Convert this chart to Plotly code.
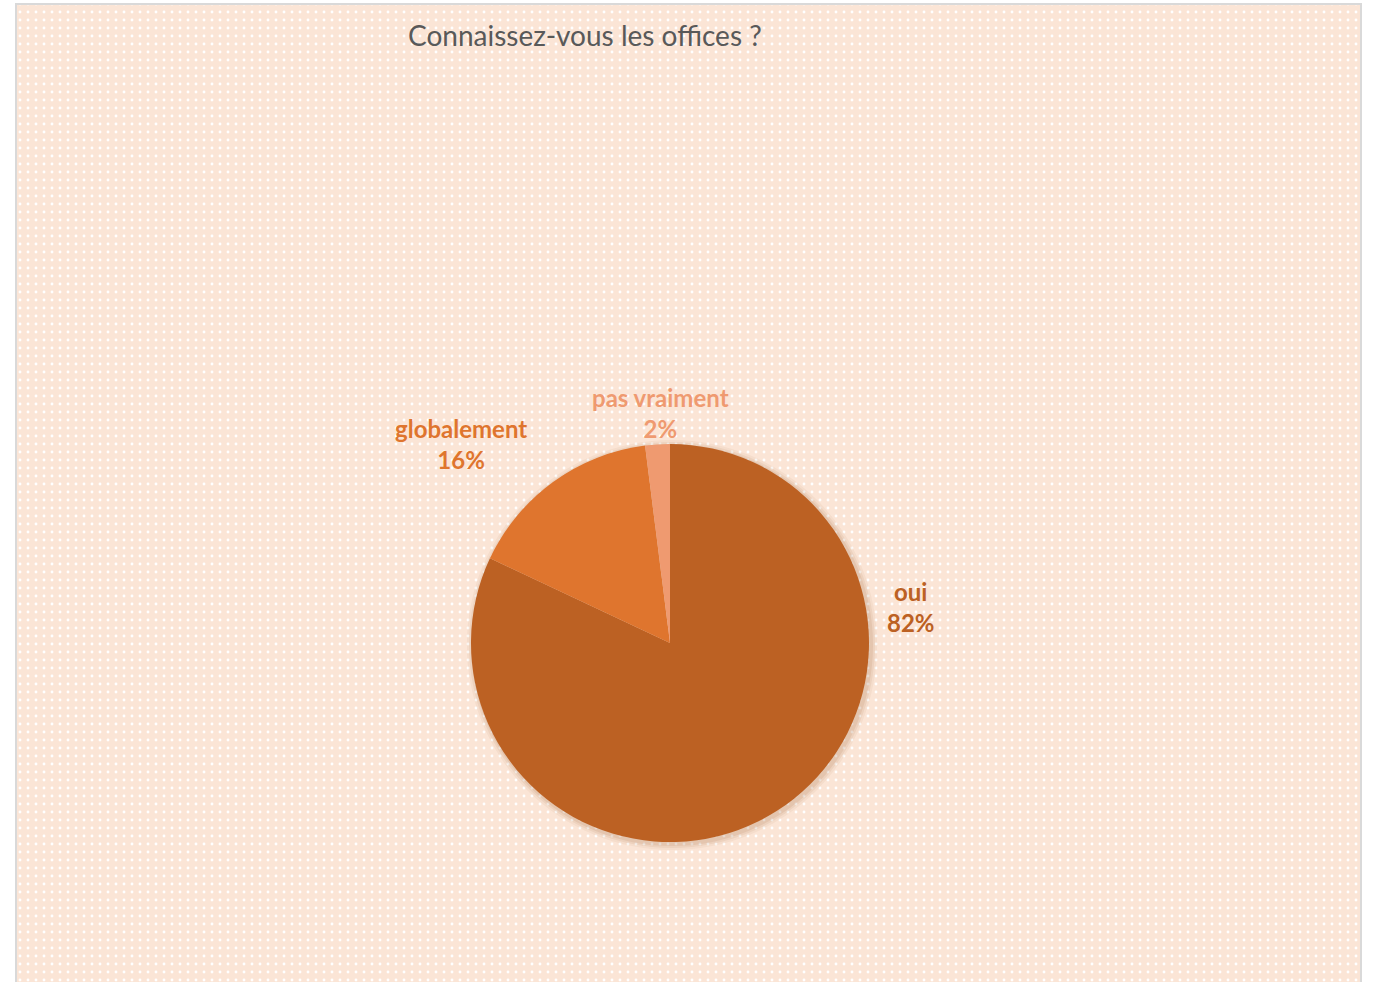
import plotly.graph_objects as go

labels = ["oui", "globalement", "pas vraiment"]
values = [82, 16, 2]
colors = ["#bc6123", "#df752e", "#ef9a70"]
title_text = "Connaissez-vous les offices ?"

# label placement (paper coords) – layout only
label_pos = [(0.6635, 0.382), (0.3358, 0.5479), (0.4814, 0.5794)]

W, H = 1373, 982
CX, CY, R = 670, 643, 199

fig = go.Figure()

# dotted peach background
fig.add_trace(go.Scatter(
    x=[16/W, 1361/W, 1361/W, 16/W, 16/W],
    y=[1-4/H, 1-4/H, -0.01, -0.01, 1-4/H],
    mode="lines", line=dict(width=0), fill="toself",
    fillcolor="#fbe5d6",
    fillpattern=dict(shape=".", bgcolor="#fbe5d6", fgcolor="#ffffff",
                     size=8, solidity=0.1, fillmode="replace"),
    hoverinfo="skip", showlegend=False,
))

# soft shadow under the pie
for grow, alpha in [(6, 0.05), (4, 0.07), (2, 0.09)]:
    fig.add_trace(go.Pie(
        values=[1], sort=False, textinfo="none", hoverinfo="skip", showlegend=False,
        marker=dict(colors=[f"rgba(140,70,20,{alpha})"], line=dict(width=0)),
        domain=dict(x=[(CX-R-grow+2)/W, (CX+R+grow+2)/W],
                    y=[1-(CY+R+grow+2)/H, 1-(CY-R-grow+2)/H]),
    ))

fig.add_trace(go.Pie(
    labels=labels, values=values, sort=False, direction="clockwise",
    rotation=0, marker=dict(colors=colors, line=dict(width=0)),
    textinfo="none", hoverinfo="label+percent", showlegend=False,
    domain=dict(x=[(CX-R)/W, (CX+R)/W], y=[1-(CY+R)/H, 1-(CY-R)/H]),
))

total = sum(values)
annotations = []
for lab, val, col, (px, py) in zip(labels, values, colors, label_pos):
    annotations.append(dict(
        x=px, y=py, xref="paper", yref="paper", xanchor="center", yanchor="middle",
        text=f"<b>{lab}</b><br><b>{round(100*val/total)}%</b>", showarrow=False,
        font=dict(family="Lato", size=24, color=col), align="center",
    ))
annotations.append(dict(
    x=585/W, y=1-35/H, xref="paper", yref="paper", xanchor="center", yanchor="middle",
    text=title_text, showarrow=False,
    font=dict(family="Lato", size=28, color="#595959"),
))

fig.update_layout(
    width=W, height=H, margin=dict(l=0, r=0, t=0, b=0),
    paper_bgcolor="white", plot_bgcolor="white",
    xaxis=dict(range=[0, 1], visible=False, fixedrange=True),
    yaxis=dict(range=[0, 1], visible=False, fixedrange=True),
    annotations=annotations,
    shapes=[dict(type="rect", xref="paper", yref="paper",
                 x0=16/W, x1=1361/W, y0=-0.01, y1=1-4/H,
                 line=dict(color="#d9d9d9", width=2), fillcolor="rgba(0,0,0,0)",
                 layer="above")],
)

fig.write_html("out.html", config={"displayModeBar": False},
               post_script="document.body.style.margin='0px';")
